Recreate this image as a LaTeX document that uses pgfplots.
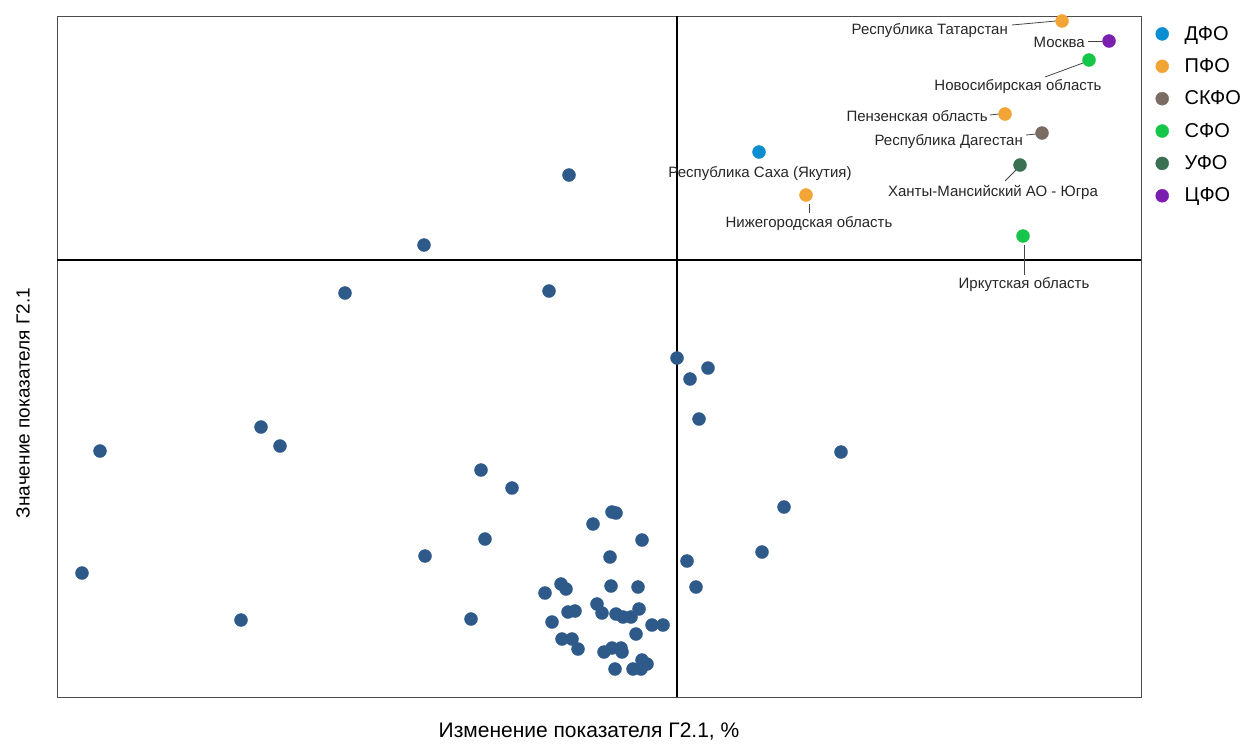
\documentclass[border=0pt]{standalone}
\usepackage{pgfplots}
\pgfplotsset{compat=1.18}
\usepackage{fontspec}
\setmainfont{Liberation Sans}

\definecolor{dots}{HTML}{2E5A8A}
\definecolor{dfo}{HTML}{0A8ED0}
\definecolor{pfo}{HTML}{F2A535}
\definecolor{skfo}{HTML}{7B6C63}
\definecolor{sfo}{HTML}{16C64A}
\definecolor{ufo}{HTML}{3A7152}
\definecolor{cfo}{HTML}{7A1FB0}
\definecolor{lead}{HTML}{444444}

\begin{document}
\begin{tikzpicture}
\useasboundingbox (-57pt,-48pt) rectangle (1186pt,697pt);
\begin{axis}[
    at={(0pt,0pt)}, anchor=south west,
    scale only axis,
    width=1084pt, height=681pt,
    xmin=57, xmax=1141,
    ymin=16, ymax=697,
    y dir=reverse,
    xtick=\empty, ytick=\empty,
    axis line style={draw=black!70, line width=0.8pt},
    clip=false,
    legend style={
        at={(axis cs:1155.5,24)}, anchor=north west,
        draw=none, fill=none,
        font=\fontsize{20}{20}\selectfont,
        row sep=12.9pt,
        inner sep=0pt,
        legend cell align=left
    },
    legend image code/.code={%
        \draw[#1] plot coordinates {(0pt,0pt)};
        \path[draw=none, fill=none] (-6.5pt,0pt) rectangle (20.5pt,0.1pt);},
  ]

  % reference cross
  \draw[black, line width=1.6pt] (axis cs:677,16) -- (axis cs:677,697);
  \draw[black, line width=1.6pt] (axis cs:57,260) -- (axis cs:1141,260);

  % all other regions
  \addplot[only marks, mark=*, mark size=6.5pt, draw=dots, fill=dots, forget plot] coordinates {
    (569,175) (424,245) (345,293) (549,291) (677,358) (708,368) (690,379)
    (699,419) (100,451) (261,427) (280,446) (841,452) (481,470) (512,488)
    (784,507) (593,524) (612,512) (616,513) (485,539) (642,540) (610,557)
    (425,556) (762,552) (687,561) (82,573) (561,584) (566,589) (545,593)
    (611,586) (638,587) (696,587) (241,620) (471,619) (597,604) (602,613)
    (568,612) (575,611) (616,614) (623,617) (631,617) (639,609) (552,622)
    (652,625) (663,625) (636,634) (562,639) (572,639) (578,649) (604,652)
    (612,648) (621,648) (622,652) (642,660) (647,664) (641,669) (633,669)
    (615,669)
  };

  \addplot[only marks, mark=*, mark size=6.5pt, draw=dfo, fill=dfo] coordinates {(759,152)};
  \addlegendentry{ДФО}
  \addplot[only marks, mark=*, mark size=6.5pt, draw=pfo, fill=pfo] coordinates {(1062,21) (1005,114) (806,195)};
  \addlegendentry{ПФО}
  \addplot[only marks, mark=*, mark size=6.5pt, draw=skfo, fill=skfo] coordinates {(1042,133)};
  \addlegendentry{СКФО}
  \addplot[only marks, mark=*, mark size=6.5pt, draw=sfo, fill=sfo] coordinates {(1089,60) (1023,236)};
  \addlegendentry{СФО}
  \addplot[only marks, mark=*, mark size=6.5pt, draw=ufo, fill=ufo] coordinates {(1020,165)};
  \addlegendentry{УФО}
  \addplot[only marks, mark=*, mark size=6.5pt, draw=cfo, fill=cfo] coordinates {(1109,41)};
  \addlegendentry{ЦФО}

  % leader lines
  \draw[lead, line width=0.8pt] (axis cs:1012,25) -- (axis cs:1056,21);
  \draw[lead, line width=0.8pt] (axis cs:1088,41) -- (axis cs:1102,41);
  \draw[lead, line width=0.8pt] (axis cs:1045,77) -- (axis cs:1083,63);
  \draw[lead, line width=0.8pt] (axis cs:990,115) -- (axis cs:999,114);
  \draw[lead, line width=0.8pt] (axis cs:1026,135) -- (axis cs:1036,134);
  \draw[lead, line width=0.8pt] (axis cs:1005,181) -- (axis cs:1016,170);
  \draw[lead, line width=0.8pt] (axis cs:809,204) -- (axis cs:809,213);
  \draw[lead, line width=0.8pt] (axis cs:1024,245) -- (axis cs:1024,275);

  % region labels
  \begin{scope}[every node/.style={font=\fontsize{15}{18}\selectfont, inner sep=0pt, text=black!85}]
    \node[anchor=east] at (axis cs:1008,31) {Республика Татарстан};
    \node[anchor=east] at (axis cs:1085,42) {Москва};
    \node at (axis cs:1018,87) {Новосибирская область};
    \node[anchor=east] at (axis cs:988,116) {Пензенская область};
    \node[anchor=east] at (axis cs:1023,142) {Республика Дагестан};
    \node at (axis cs:760,174) {Республика Саха (Якутия)};
    \node at (axis cs:993,192) {Ханты-Мансийский АО - Югра};
    \node at (axis cs:809,224) {Нижегородская область};
    \node at (axis cs:1024,285) {Иркутская область};
  \end{scope}

  % axis titles
  \node[font=\fontsize{21}{24}\selectfont, inner sep=0pt] at (axis cs:589,732) {Изменение показателя Г2.1, \%};
  \node[font=\fontsize{19}{22}\selectfont, inner sep=0pt, rotate=90] at (axis cs:23,403) {Значение показателя Г2.1};
\end{axis}
\end{tikzpicture}
\end{document}
